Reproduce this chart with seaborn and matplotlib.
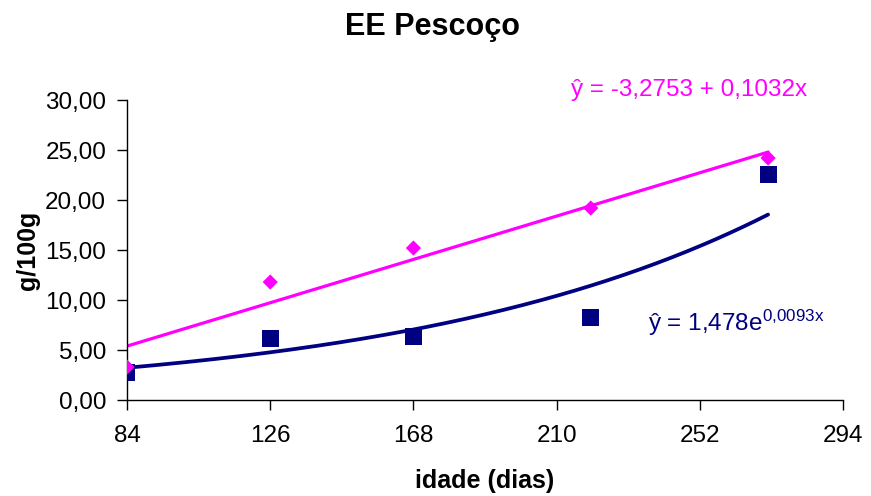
import numpy as np
import pandas as pd
import matplotlib
matplotlib.use("Agg")
import matplotlib.pyplot as plt
import seaborn as sns

# Idade de abate (dias) e extrato etéreo do pescoço (g/100g)
idade = [84, 126, 168, 220, 272]
ee_linear = [3.3, 11.8, 15.2, 19.2, 24.2]
ee_expon = [2.8, 6.2, 6.4, 8.3, 22.6]

# Coeficientes das equações ajustadas
lin_a, lin_b = -3.2753, 0.1032
exp_a, exp_b = 1.478, 0.0093

x_ticks = [84, 126, 168, 210, 252, 294]
y_ticks = [0, 5, 10, 15, 20, 25, 30]

MAGENTA = "#FF00FF"
NAVY = "#000080"

sns.set_theme(style="white")
plt.rcParams["font.family"] = ["Liberation Sans", "DejaVu Sans"]
plt.rcParams["text.color"] = "black"
plt.rcParams["axes.labelcolor"] = "black"
plt.rcParams["mathtext.default"] = "regular"

fig = plt.figure(figsize=(8.71, 4.96), dpi=100)
ax = fig.add_axes([0.1458, 0.1935, 0.8222, 0.6048])

# Curvas de tendência a partir das equações
xs = np.linspace(min(idade), max(idade), 200)
trend = pd.DataFrame({
    "x": xs,
    "lin": lin_a + lin_b * xs,
    "exp": exp_a * np.exp(exp_b * xs),
})
sns.lineplot(data=trend, x="x", y="lin", color=MAGENTA, linewidth=2.3, ax=ax)
sns.lineplot(data=trend, x="x", y="exp", color=NAVY, linewidth=2.7, ax=ax)

pts = pd.DataFrame({"idade": idade, "lin": ee_linear, "exp": ee_expon})
sns.scatterplot(data=pts, x="idade", y="exp", marker="s", s=150,
                color=NAVY, edgecolor="none", ax=ax, zorder=3)
sns.scatterplot(data=pts, x="idade", y="lin", marker="D", s=60,
                color=MAGENTA, edgecolor="none", ax=ax, zorder=4)

ax.set_xlim(84, 294)
ax.set_ylim(0, 30)
ax.set_xticks(x_ticks)
ax.set_xticklabels([str(v) for v in x_ticks])
ax.set_yticks(y_ticks)
ax.set_yticklabels([f"{v:.2f}".replace(".", ",") for v in y_ticks])

for side in ("top", "right"):
    ax.spines[side].set_visible(False)
for side in ("left", "bottom"):
    ax.spines[side].set_color("black")
    ax.spines[side].set_linewidth(1.0)

ax.tick_params(axis="both", which="major", direction="out", length=7,
               width=1.0, color="black", labelsize=17.5, labelcolor="black",
               left=True, bottom=True)
ax.tick_params(axis="y", pad=8)
ax.tick_params(axis="x", pad=11)

ax.set_xlabel("idade (dias)", fontsize=18, fontweight="bold", labelpad=16)
ax.set_ylabel("g/100g", fontsize=18, fontweight="bold", labelpad=4)

fig.suptitle("EE Pescoço", fontsize=22, fontweight="bold", x=0.497, y=0.975)

ax.text(0.62, 0.998, "ŷ = -3,2753 + 0,1032x", transform=ax.transAxes,
        color=MAGENTA, fontsize=17.5, va="bottom", ha="left")
ax.text(0.727, 0.208, r"ŷ = 1,478e$^{0{,}0093x}$", transform=ax.transAxes,
        color=NAVY, fontsize=17.5, va="bottom", ha="left")

fig.savefig("out.png", dpi=100)
